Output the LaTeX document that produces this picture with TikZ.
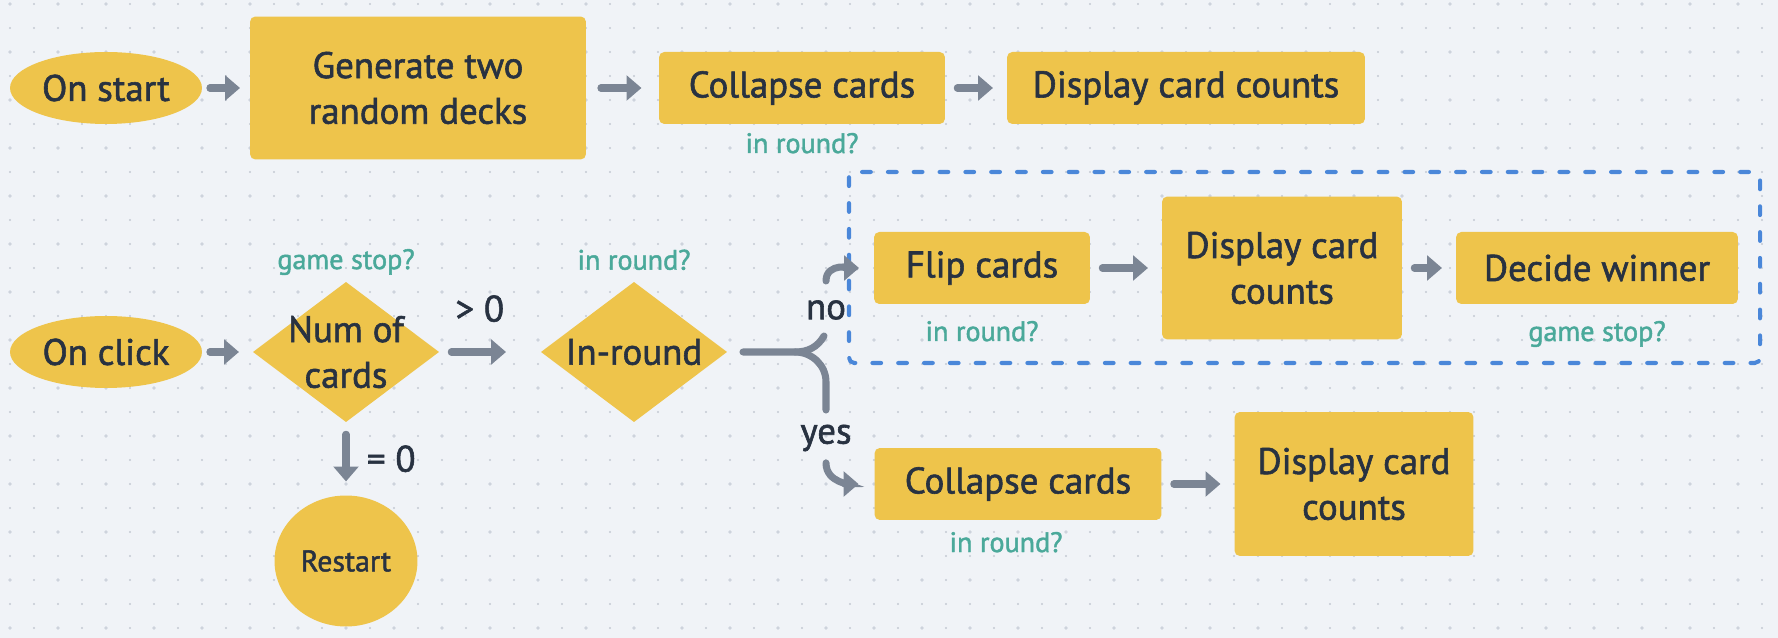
\documentclass[tikz,border=0pt]{standalone}
\usepackage{fontspec}
\setmainfont{PT Sans}[FakeBold=1.6]
\usetikzlibrary{shapes.geometric,arrows.meta}

\definecolor{cardyellow}{HTML}{EEC44B}
\definecolor{inkdark}{HTML}{283241}
\definecolor{arrowgrey}{HTML}{7B8594}
\definecolor{condteal}{HTML}{4AA99A}
\definecolor{groupblue}{HTML}{4A87D9}
\definecolor{boardbg}{HTML}{F0F3F7}
\definecolor{dotsmall}{HTML}{C4CAD3}
\definecolor{dotbig}{HTML}{CDD3DC}

\begin{document}
\begin{tikzpicture}[x=0.02cm, y=0.02cm,
    every node/.style={text=inkdark, font=\fontsize{21}{26}\selectfont, align=center, inner sep=0pt, outer sep=0pt},
    card/.style={rectangle, rounded corners=3pt, fill=cardyellow, minimum height=1.44cm},
    tallcard/.style={card, minimum height=2.86cm},
    event/.style={ellipse, fill=cardyellow, minimum width=3.84cm, minimum height=1.44cm},
    choice/.style={diamond, fill=cardyellow, minimum width=3.72cm, minimum height=2.8cm},
    cond/.style={text=condteal, font=\fontsize{16}{19}\selectfont},
    arr/.style={draw=arrowgrey, line width=4pt, line cap=round, -{Triangle[length=8.5pt,width=14pt]}, shorten <=7pt, shorten >=8pt},
    wire/.style={draw=arrowgrey, line width=4pt, line cap=round},
    group/.style={draw=groupblue, line width=2.3pt, line cap=round, dash pattern=on 5pt off 9.7pt, rounded corners=3pt}]

    \useasboundingbox (0,0) rectangle (1778,638);
    \fill[boardbg] (0,0) rectangle (1778,638);
    \foreach \i in {0,...,73} {\foreach \j in {0,...,26} {\fill[dotsmall] (10+24*\i, 634-24*\j) circle[radius=0.6pt];}}
    \foreach \i in {0,...,36} {\foreach \j in {0,...,13} {\fill[dotbig] (10+48*\i, 634-48*\j) circle[radius=1.1pt];}}

    % start row
    \node (start) [event]                                   at (106,550)  {On start};
    \node (gen)   [tallcard, minimum width=6.72cm]          at (418,550)  {Generate two\\random decks};
    \node (colt)  [card, minimum width=5.72cm,
                   label={[cond, label distance=0.18cm]below:in round?}] at (802,550) {Collapse cards};
    \node (dispt) [card, minimum width=7.16cm]              at (1186,550) {Display card counts};

    % click row
    \node (click) [event]                                   at (106,286)  {On click};
    \node (num)   [choice, label={center:Num of\\cards},
                   label={[cond, label distance=0.14cm]above:game stop?}] at (346,286) {};
    \node (inr)   [choice, label={center:In-round},
                   label={[cond, label distance=0.24cm]above:in round?}] at (634,286) {};
    \node (restart) [ellipse, fill=cardyellow, minimum width=2.86cm, minimum height=2.62cm,
                   font=\fontsize{17}{20}\selectfont]       at (346,77)   {Restart};

    \draw[group] (849,466) rectangle (1760,275);
    \node (flip)   [card, minimum width=4.32cm,
                    label={[cond, label distance=0.34cm]below:in round?}] at (982,370) {Flip cards};
    \node (dispm)  [tallcard, minimum width=4.8cm]          at (1282,370) {Display card\\counts};
    \node (decide) [card, minimum width=5.64cm,
                    label={[cond, label distance=0.34cm]below:game stop?}] at (1597,370) {Decide winner};

    \node (colb)  [card, minimum width=5.74cm,
                   label={[cond, label distance=0.24cm, xshift=-0.24cm]below:in round?}] at (1018,154) {Collapse cards};
    \node (dispb) [tallcard, minimum width=4.78cm, minimum height=2.88cm] at (1354,154) {Display card\\counts};

    \coordinate (fork)     at (795,286);
    \coordinate (noend)    at (824,302);
    \coordinate (nostart)  at (826,357);
    \coordinate (yesend)   at (826,228);
    \coordinate (yesstart) at (826,175);
    \node (no)  at (826,328) {no};
    \node (yes) at (826,200) {yes};

    \draw[arr, shorten <=4.5pt, shorten >=5.7pt] (start) -- (gen);
    \draw[arr, shorten <=8.5pt, shorten >=10pt] (gen) -- (colt);
    \draw[arr] (colt) -- (dispt);
    \draw[arr, shorten <=4.5pt] (click) -- (num);
    \draw[arr, shorten >=0.7cm] (num) -- node[pos=0.4, above=0.6cm] {> 0} (inr);
    \draw[arr] (num) -- node[right=0.42cm] {= 0} (restart);
    \draw[wire, shorten <=0.32cm] (inr) -- (fork) to[out=0, in=-120] (noend);
    \draw[wire] (fork) to[out=0, in=90] ++(31,-30) -- (yesend);
    \draw[arr, shorten <=0pt, shorten >=0.3cm] (nostart) to[out=90, in=180] (flip);
    \draw[arr, shorten <=0pt, shorten >=0.32cm] (yesstart) to[out=-90, in=180] (colb);
    \draw[arr] (flip) -- (dispm);
    \draw[arr] (dispm) -- (decide);
    \draw[arr] (colb) -- (dispb);
\end{tikzpicture}
\end{document}
